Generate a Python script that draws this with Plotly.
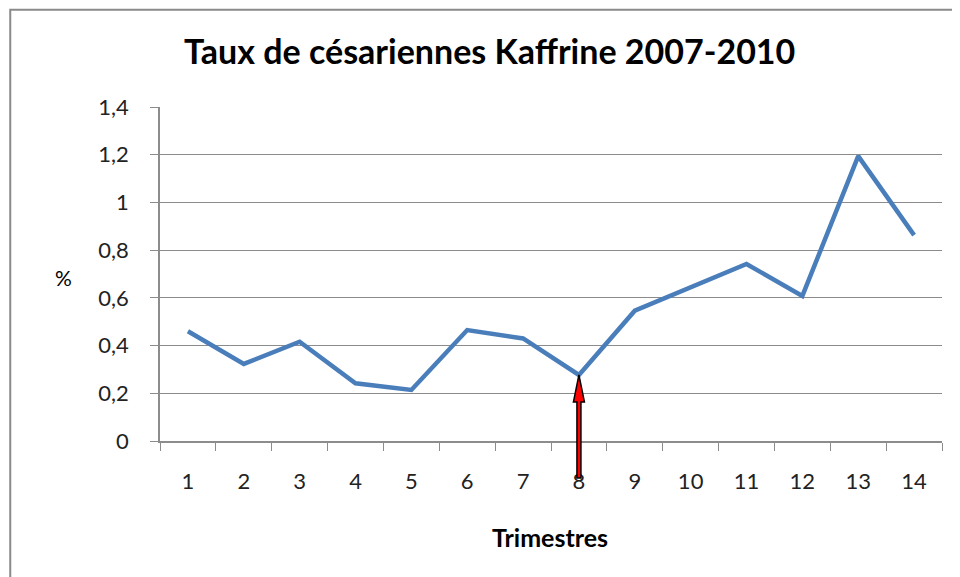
import plotly.graph_objects as go

# données
trimestres = [str(i) for i in range(1, 15)]
taux = [0.46, 0.323, 0.416, 0.242, 0.214, 0.465, 0.43, 0.277,
        0.546, 0.645, 0.742, 0.608, 1.194, 0.863]
titre = "Taux de césariennes Kaffrine 2007-2010"
y_ticks = [0, 0.2, 0.4, 0.6, 0.8, 1.0, 1.2, 1.4]
y_max = 1.4

FONT = "Lato"
GRID = "#8c8c8c"

fig = go.Figure()
fig.add_trace(go.Scatter(
    x=trimestres, y=taux, mode="lines",
    line=dict(color="#4a7ebb", width=4.5),
    showlegend=False, hoverinfo="x+y",
))

# flèche rouge (contour noir) qui pointe sur le trimestre 8
i8 = trimestres.index("8")
fig.add_shape(
    type="path", xref="x", yref="y domain",
    xsizemode="pixel", ysizemode="pixel",
    xanchor=i8, yanchor=taux[i8] / y_max,
    path="M0,0 L5.5,-27 L2,-27 L2,-103 L-2,-103 L-2,-27 L-5.5,-27 Z",
    fillcolor="red", line=dict(color="black", width=1.5), layer="above",
)

fig.add_annotation(
    text="%", xref="paper", yref="paper", x=-0.123, y=0.491,
    xanchor="center", yanchor="middle",
    showarrow=False, font=dict(family=FONT, size=21, color="black"),
)
fig.add_annotation(
    text="<b>Trimestres</b>", xref="paper", yref="paper", x=0.499, y=-0.287,
    xanchor="center", yanchor="middle",
    showarrow=False, font=dict(family=FONT, size=25, color="black"),
)

# cadre gris
fig.add_shape(type="rect", xref="paper", yref="paper",
              x0=-0.1915, y0=-0.6, x1=1.2, y1=1.291,
              line=dict(color="#8a8a8a", width=2), layer="below")

fig.update_layout(
    width=952, height=569,
    margin=dict(l=152, r=18, t=99, b=136),
    paper_bgcolor="white", plot_bgcolor="white",
    separators=", ",
    font=dict(family=FONT, size=22, color="#222"),
    title=dict(text="<b>" + titre + "</b>", x=0.506, xanchor="center",
               y=0.9227, yanchor="middle",
               font=dict(family=FONT, size=34, color="black")),
)
fig.update_xaxes(
    type="category", range=[-0.5, len(trimestres) - 0.5],
    tickson="boundaries", ticks="outside", ticklen=8,
    tickcolor=GRID, showline=True, linecolor=GRID, linewidth=1.5,
    showgrid=False, ticklabelstandoff=20,
)
fig.update_yaxes(
    range=[0, y_max], tickvals=y_ticks, ticks="outside", ticklen=8,
    tickcolor=GRID, showline=True, linecolor=GRID, linewidth=1.5,
    showgrid=True, gridcolor=GRID, gridwidth=1, zeroline=False,
    ticklabelstandoff=17,
)

fig.write_html("out.html")
